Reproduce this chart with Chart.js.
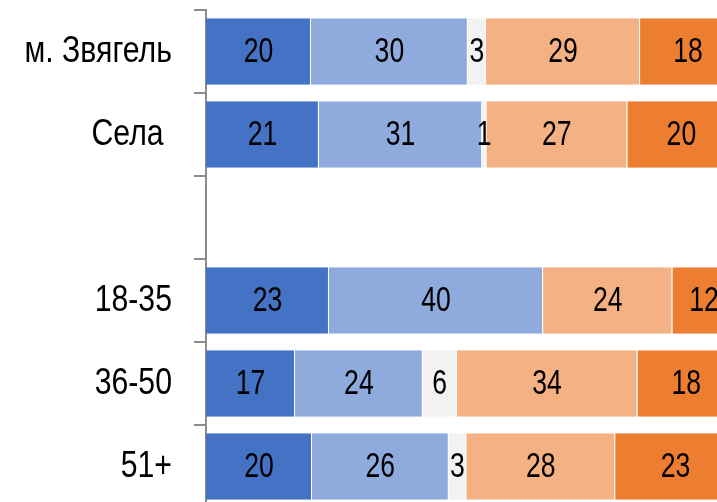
<!DOCTYPE html>
<html>
<head>
<meta charset="utf-8">
<script src="https://cdn.jsdelivr.net/npm/chart.js@4.4.1/dist/chart.umd.min.js"></script>
<style>
  html, body { margin: 0; padding: 0; background: #fff; overflow: hidden; }
  #wrap { width: 736px; height: 510px; position: relative; }
</style>
</head>
<body>
<div id="wrap"><canvas id="myBarChart"></canvas></div>
<script>
// categories (empty slot separates place from age groups)
const labels = ["м. Звягель", "Села ", "", "18-35", "36-50", "51+"];

// shares per answer group
const dark_blue = [19.8, 21.3, null, 23.2, 16.8, 20.0];
const light_blue = [29.6, 30.8, null, 40.4, 24.1, 25.8];
const grey = [3.4, 0.8, null, 0, 6.4, 3.3];
const light_orange = [29.1, 26.6, null, 24.4, 34.1, 28.1];
const dark_orange = [18.1, 20.4, null, 11.9, 18.4, 22.8];

const colors = ["#4472C4", "#8FAADC", "#F2F2F2", "#F4B183", "#ED7D31"];
const series = [dark_blue, light_blue, grey, light_orange, dark_orange];

const FONT = "'Liberation Sans', Arial, sans-serif";

// condensed text, like Arial Narrow
function narrowText(ctx, txt, x, y, sx) {
  ctx.save();
  ctx.translate(x, y);
  ctx.scale(sx, 1);
  ctx.fillText(txt, 0, 0);
  ctx.restore();
}

// draws category names and the rounded value in the middle of each segment
const textLayer = {
  id: "textLayer",
  afterDatasetsDraw(chart) {
    const ctx = chart.ctx;
    const ys = chart.scales.y;
    ctx.save();
    ctx.fillStyle = "#000";
    ctx.textBaseline = "middle";

    ctx.font = "36px " + FONT;
    ctx.textAlign = "right";
    const lx = ys.right - 12 - 22;
    chart.data.labels.forEach((lab, j) => {
      narrowText(ctx, lab, lx, ys.getPixelForValue(j) + 1, 0.84);
    });

    ctx.font = "35px " + FONT;
    ctx.textAlign = "center";
    chart.data.datasets.forEach((ds, i) => {
      const meta = chart.getDatasetMeta(i);
      meta.data.forEach((bar, j) => {
        const v = ds.data[j];
        if (v == null || Math.round(v) === 0) return;
        const p = bar.getCenterPoint();
        narrowText(ctx, String(Math.round(v)), p.x, p.y + 1, 0.76);
      });
    });
    ctx.restore();
  }
};

const ctx = document.getElementById("myBarChart");

new Chart(ctx, {
  type: "bar",
  data: {
    labels: labels,
    datasets: series.map((d, i) => ({
      label: "s" + i,
      data: d,
      backgroundColor: colors[i],
      borderColor: "rgba(255,255,255,0.9)",
      borderWidth: { left: 0, right: 1, top: 0, bottom: 0 },
      borderSkipped: false,
      barPercentage: 0.8,
      categoryPercentage: 1.0,
    })),
  },
  options: {
    indexAxis: "y",
    responsive: true,
    maintainAspectRatio: false,
    animation: false,
    layout: { padding: { top: 10, bottom: 2, left: 0, right: 0 } },
    plugins: {
      legend: { display: false },
      tooltip: { enabled: false },
    },
    scales: {
      x: {
        stacked: true,
        min: 0,
        max: 100,
        display: false,
      },
      y: {
        stacked: true,
        afterFit: (s) => { s.width = 206; },
        border: { display: true, color: "#8c8c8c", width: 2 },
        grid: {
          drawOnChartArea: false,
          drawTicks: true,
          tickLength: 12,
          color: "#8c8c8c",
          lineWidth: 2,
        },
        ticks: { display: false },
      },
    },
  },
  plugins: [textLayer],
});
</script>
</body>
</html>
